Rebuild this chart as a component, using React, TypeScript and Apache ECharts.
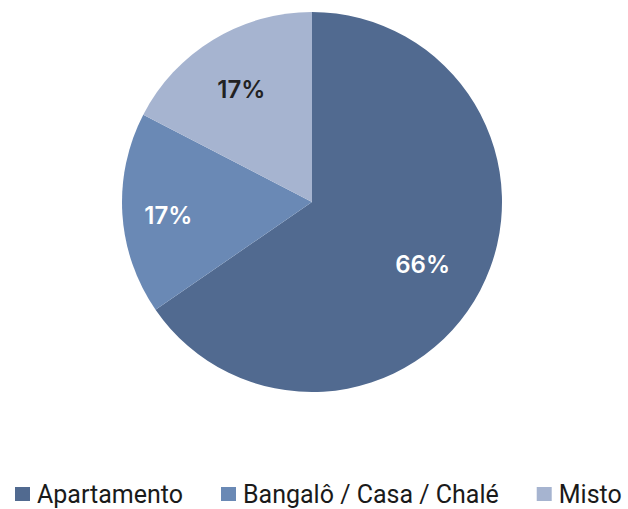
import React, { useEffect, useRef } from "react";
import * as echarts from "echarts";

const categories = ["Apartamento", "Bangalô / Casa / Chalé", "Misto"];
const shares = [65.4, 17.2, 17.4];
const colors = ["#516a90", "#6a89b5", "#a6b4d0"];
const labelColors = ["#ffffff", "#ffffff", "#222222"];
const labelRadii = [122, 141, 133];

export default function App() {
  const ref = useRef<HTMLDivElement>(null);
  useEffect(() => {
    document.body.style.margin = "0";
    const chart = echarts.init(ref.current!, null, { renderer: "svg" });
    const data = categories.map((name, i) => ({
      name,
      value: shares[i],
      itemStyle: { color: colors[i] },
    }));
    const labelSeries = categories.map((_, k) => ({
      type: "pie",
      name: "label" + k,
      center: [312, 202],
      radius: [0, labelRadii[k] * 2],
      startAngle: 90,
      silent: true,
      percentPrecision: 0,
      itemStyle: { color: "rgba(0,0,0,0)" },
      labelLine: { show: false },
      emphasis: { disabled: true },
      data: categories.map((name, i) => ({
        name,
        value: shares[i],
        itemStyle: { color: "rgba(0,0,0,0)" },
        label: {
          show: i === k,
          position: "inside",
          formatter: "{gap|}\n{v|{d}%}",
          rich: {
            gap: { lineHeight: 8, fontSize: 1 },
            v: {
              color: labelColors[i],
              fontFamily: "Inter",
              fontSize: 24,
              fontWeight: 600,
              lineHeight: 28,
            },
          },
        },
      })),
    }));
    chart.setOption({
      animation: false,
      legend: {
        data: categories,
        left: 15,
        right: 0,
        top: 480,
        padding: 0,
        icon: "rect",
        itemWidth: 15,
        itemHeight: 14,
        itemGap: 38,
        textStyle: {
          fontFamily: "Roboto",
          fontSize: 25,
          lineHeight: 28,
          color: "#1a1a1a",
          padding: [0, 0, 0, 2],
        },
      },
      series: [
        {
          type: "pie",
          name: "main",
          center: [312, 202],
          radius: 190,
          startAngle: 90,
          label: { show: false },
          labelLine: { show: false },
          emphasis: { disabled: true },
          data,
        },
        ...labelSeries,
      ],
    });
    return () => chart.dispose();
  }, []);
  return <div ref={ref} style={{ width: 628, height: 509 }} />;
}
